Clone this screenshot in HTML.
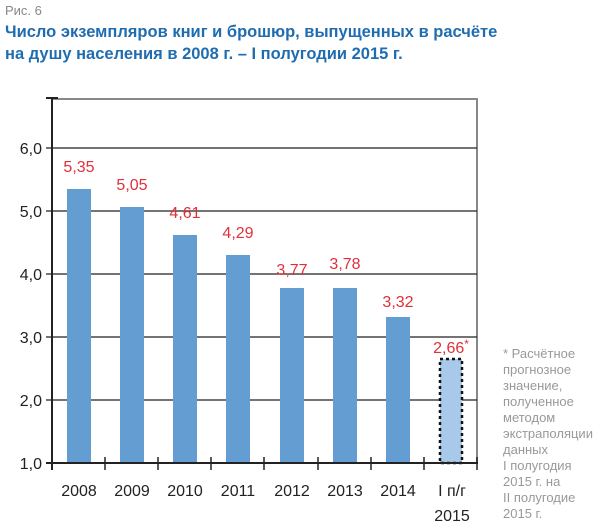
<!DOCTYPE html>
<html><head><meta charset="utf-8"><style>
body{margin:0;background:#fff;width:600px;height:527px;overflow:hidden}
</style></head><body>
<svg width="600" height="527" xmlns="http://www.w3.org/2000/svg" font-family="Liberation Sans, DejaVu Sans, sans-serif">
<text x="5" y="15" font-size="13" fill="#888">Рис. 6</text>
<text x="5" y="37" font-size="16.5" font-weight="bold" fill="#1f6db0">Число экземпляров книг и брошюр, выпущенных в расчёте</text>
<text x="5" y="59" font-size="16.5" font-weight="bold" fill="#1f6db0">на душу населения  в 2008 г. – I полугодии 2015 г.</text>
<line x1="52" y1="99" x2="478" y2="99" stroke="#888" stroke-width="2"/>
<line x1="477" y1="99" x2="477" y2="464" stroke="#888" stroke-width="2"/>
<g stroke="#222" stroke-width="1.2">
<line x1="46" y1="148" x2="477" y2="148"/>
<line x1="46" y1="211" x2="477" y2="211"/>
<line x1="46" y1="274" x2="477" y2="274"/>
<line x1="46" y1="337" x2="477" y2="337"/>
<line x1="46" y1="400" x2="477" y2="400"/>
</g>
<g fill="#649dd2">
<rect x="67" y="189" width="24" height="274"/>
<rect x="120" y="207" width="24" height="256"/>
<rect x="173" y="235" width="24" height="228"/>
<rect x="226" y="255" width="24" height="208"/>
<rect x="280" y="288" width="24" height="175"/>
<rect x="333" y="288" width="24" height="175"/>
<rect x="386" y="317" width="24" height="146"/>
</g>
<rect x="440" y="359" width="22" height="104" fill="#a9c9ea" stroke="#111" stroke-width="2.5" stroke-dasharray="3,3"/>
<g stroke="#222" stroke-width="2">
<line x1="52" y1="97" x2="52" y2="470"/>
<line x1="46" y1="98" x2="58" y2="98"/>
<line x1="46" y1="463" x2="478" y2="463"/>
</g>
<g stroke="#222" stroke-width="1.5">
<line x1="105" y1="457" x2="105" y2="470"/><line x1="158" y1="457" x2="158" y2="470"/>
<line x1="211" y1="457" x2="211" y2="470"/><line x1="264" y1="457" x2="264" y2="470"/>
<line x1="318" y1="457" x2="318" y2="470"/><line x1="371" y1="457" x2="371" y2="470"/>
<line x1="424" y1="457" x2="424" y2="470"/><line x1="477" y1="457" x2="477" y2="470"/>
</g>
<g font-size="16" fill="#222" text-anchor="end">
<text x="42" y="154">6,0</text><text x="42" y="217">5,0</text><text x="42" y="280">4,0</text>
<text x="42" y="343">3,0</text><text x="42" y="406">2,0</text><text x="42" y="469">1,0</text>
</g>
<g font-size="16" fill="#222" text-anchor="middle">
<text x="79" y="496">2008</text><text x="132" y="496">2009</text><text x="185" y="496">2010</text>
<text x="238" y="496">2011</text><text x="292" y="496">2012</text><text x="345" y="496">2013</text>
<text x="398" y="496">2014</text><text x="452" y="496">I п/г</text><text x="452" y="521">2015</text>
</g>
<g font-size="16" fill="#e0303a" text-anchor="middle">
<text x="79" y="172">5,35</text><text x="132" y="190">5,05</text><text x="185" y="218">4,61</text>
<text x="238" y="238">4,29</text><text x="292" y="275">3,77</text><text x="345" y="269">3,78</text>
<text x="398" y="307">3,32</text><text x="451" y="353">2,66<tspan font-size="12" dy="-5">*</tspan></text>
</g>
<g font-size="13" fill="#999">
<text x="503" y="358">* Расчётное</text><text x="503" y="374">прогнозное</text>
<text x="503" y="390">значение,</text><text x="503" y="406">полученное</text>
<text x="503" y="422">методом</text><text x="503" y="438">экстраполяции</text>
<text x="503" y="454">данных</text><text x="503" y="470">I полугодия</text>
<text x="503" y="486">2015 г. на</text><text x="503" y="502">II полугодие</text>
<text x="503" y="518">2015 г.</text>
</g>
</svg>
</body></html>
